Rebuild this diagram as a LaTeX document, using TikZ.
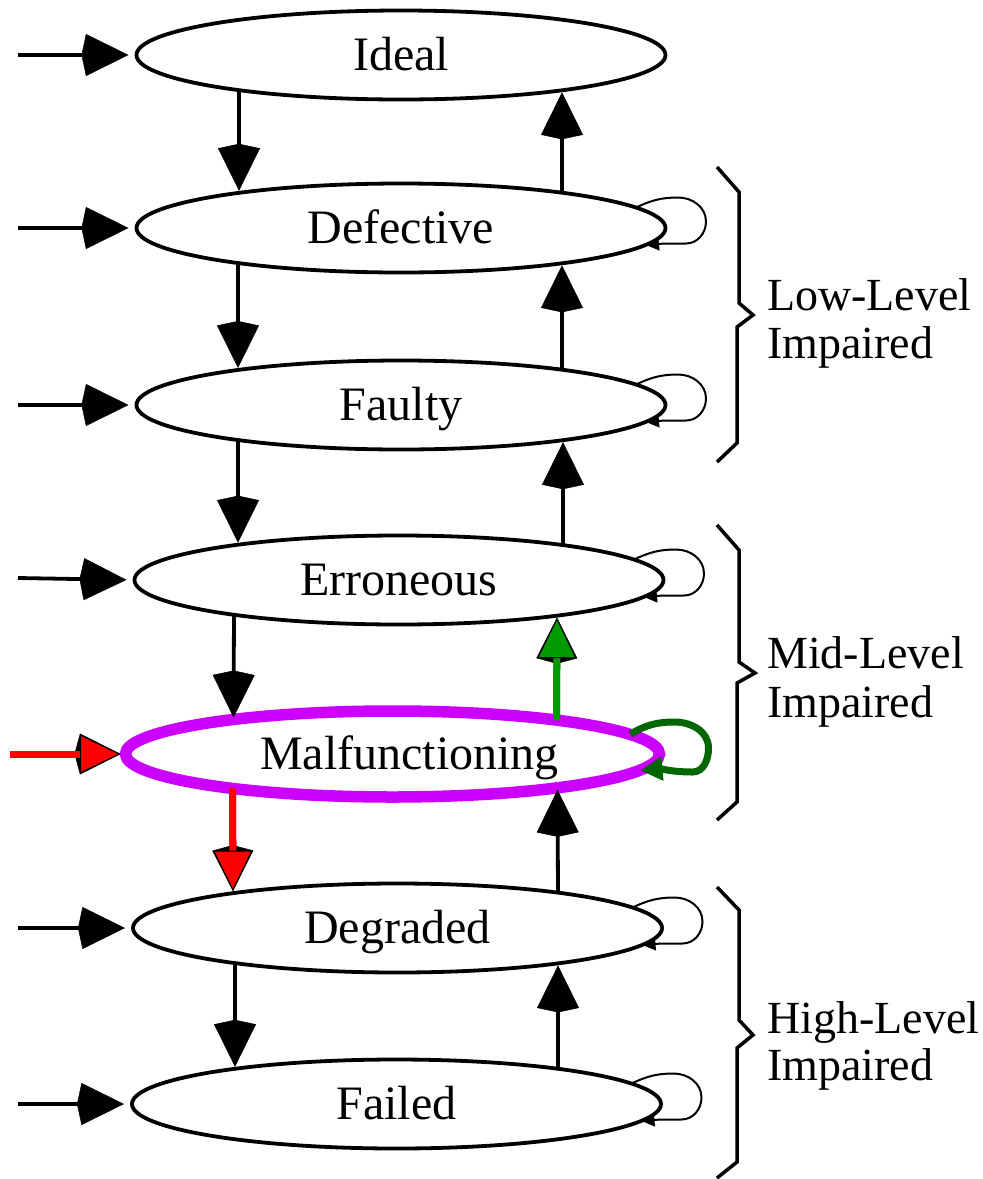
\documentclass[tikz,border=0pt]{standalone}
\usepackage{fontspec}
\setmainfont{Liberation Serif}
\usetikzlibrary{arrows.meta,shapes.geometric,calc}
\definecolor{ringmagenta}{HTML}{CC00FF}
\definecolor{pathred}{HTML}{FF0000}
\definecolor{upgreen}{HTML}{009900}
\definecolor{loopgreen}{HTML}{006600}
\begin{document}
\begin{tikzpicture}[x=1pt,y=-1pt,
  state/.style={ellipse, draw=black, line width=3.8pt, inner sep=0pt, outer sep=0pt,
    minimum width=529pt, minimum height=89pt,
    font=\fontsize{48}{56}\selectfont, text height=34pt, text depth=4pt},
  hotstate/.style={state, draw=ringmagenta, line width=11.5pt,
    minimum width=534pt, minimum height=86pt},
  bighead/.tip={Kite[length=47pt, width=42pt, inset=4.5pt, line width=0.5pt]},
  underhead/.tip={Kite[length=46pt, width=41pt, inset=5.5pt, line width=0.5pt, color=black]},
  edge/.style={line width=3.8pt, -{bighead}, shorten >=2pt},
  entry/.style={edge, shorten >=8pt},
  redline/.style={draw=pathred, line width=7pt},
  greenline/.style={draw=upgreen, line width=7pt},
  overhead/.style={-{Triangle[length=40.5pt, width=39pt, color=black, fill=#1, line width=1pt]}},
  selfloop/.style={line width=2pt, -{Triangle[length=13pt, width=13pt]}},
  greenloop/.style={draw=loopgreen, line width=7pt,
    -{Triangle[length=22pt, width=23pt, color=loopgreen]}},
  bracket/.style={line width=3.5pt, line join=miter},
  side/.style={anchor=base west, inner sep=0pt, font=\fontsize{46}{48}\selectfont}]

\fill[white] (0,0) rectangle (983,1179);
\useasboundingbox (0,0) rectangle (983,1179);

% states
\node[state] (ideal)  at (401,55)    {Ideal};
\node[state] (def)    at (401,228)   {Defective};
\node[state] (faulty) at (401,405)   {Faulty};
\node[state] (err)    at (399,580)   {Erroneous};
\node[state] (deg)    at (397.5,928) {Degraded};
\node[state] (failed) at (396.5,1104){Failed};
\node[hotstate] (malf) at (392.5,754) {\hspace*{34pt}Malfunctioning};

% entry points on the left
\coordinate (in1) at (18,55);
\coordinate (in2) at (18,228);
\coordinate (in3) at (18,405);
\coordinate (in4) at (18,578);
\coordinate (in5) at (10,754);
\coordinate (in6) at (18,928);
\coordinate (in7) at (18,1104);

\draw[entry] (in1) -- (ideal.west);
\draw[entry] (in2) -- (def.west);
\draw[entry] (in3) -- (faulty.west);
\draw[entry] (in4) -- (err.west);
\draw[entry] (in6) -- (deg.west);
\draw[entry] (in7) -- (failed.west);
\draw[redline, -{underhead}, shorten >=5pt] (in5) -- (malf.west);
\draw[redline, overhead=pathred, shorten >=5pt] (in5) -- (malf.west);

% downward transitions (left column), ends on the ellipse borders
\draw[edge] ($(ideal)+(-162,35.2)$) -- ($(def)+(-162,-35.2)$);
\draw[edge] ($(def)+(-163,35.0)$) -- ($(faulty)+(-163,-35.0)$);
\draw[edge] ($(faulty)+(-163,35.0)$) -- ($(err)+(-161,-35.3)$);
\draw[edge] ($(err)+(-165,34.8)$) -- ($(malf)+(-159,-34.5)$);
\draw[edge] ($(deg)+(-162.5,35.1)$) -- ($(failed)+(-161.5,-35.2)$);
\draw[redline, -{underhead}, shorten >=2pt] ($(malf)+(-160,34.4)$) -- ($(deg)+(-164.5,-34.9)$);
\draw[redline, overhead=pathred, shorten >=2pt] ($(malf)+(-160,34.4)$) -- ($(deg)+(-164.5,-34.9)$);

% upward transitions (right column)
\draw[edge] ($(def)+(161,-35.3)$) -- ($(ideal)+(161,35.3)$);
\draw[edge] ($(faulty)+(161,-35.3)$) -- ($(def)+(161,35.3)$);
\draw[edge] ($(err)+(164,-34.9)$) -- ($(faulty)+(162,35.2)$);
\draw[edge] ($(deg)+(160.5,-35.4)$) -- ($(malf)+(165,33.8)$);
\draw[edge] ($(failed)+(161.5,-35.2)$) -- ($(deg)+(160.5,35.4)$);
\draw[greenline, -{underhead}, shorten >=2pt] ($(malf)+(164,-33.9)$) -- ($(err)+(158,35.7)$);
\draw[greenline, overhead=upgreen, shorten >=2pt] ($(malf)+(164,-33.9)$) -- ($(err)+(158,35.7)$);

% self loops
\foreach \s in {def, faulty, err, deg, failed}{
  \draw[selfloop] ($(\s)+(235,-20.5)$) to[out=25,in=180] ++(42,-10) to[out=0,in=90] ++(28,24)
    to[out=-90,in=0] ++(-20,22) to[out=180,in=5] ($(\s)+(245,17)$);
}
\draw[greenloop] ($(malf)+(238,-20)$) to[out=30,in=180] ++(44,-12) to[out=0,in=90] ++(34,26)
  to[out=-90,in=0] ++(-16,24) to[out=180,in=5] ($(malf)+(248,16.5)$);

% group brackets
\draw[bracket] (717,167) -- (739,192) -- (739,303) -- (753,315) -- (737,327) -- (737,443) -- (717,462);
\draw[bracket] (717,525) -- (739,550) -- (739,662) -- (755,673) -- (737,683) -- (737,802) -- (717,820);
\draw[bracket] (717,887) -- (739,910) -- (739,1020) -- (753,1035) -- (737,1048) -- (737,1162) -- (717,1178);

\node[side] (lowa)  at (767,310)  {Low-Level};
\node[side] (lowb)  at (767,358)  {Impaired};
\node[side] (mida)  at (767,668)  {Mid-Level};
\node[side] (midb)  at (767,717)  {Impaired};
\node[side] (higha) at (767,1033) {High-Level};
\node[side] (highb) at (767,1080) {Impaired};
\end{tikzpicture}
\end{document}
